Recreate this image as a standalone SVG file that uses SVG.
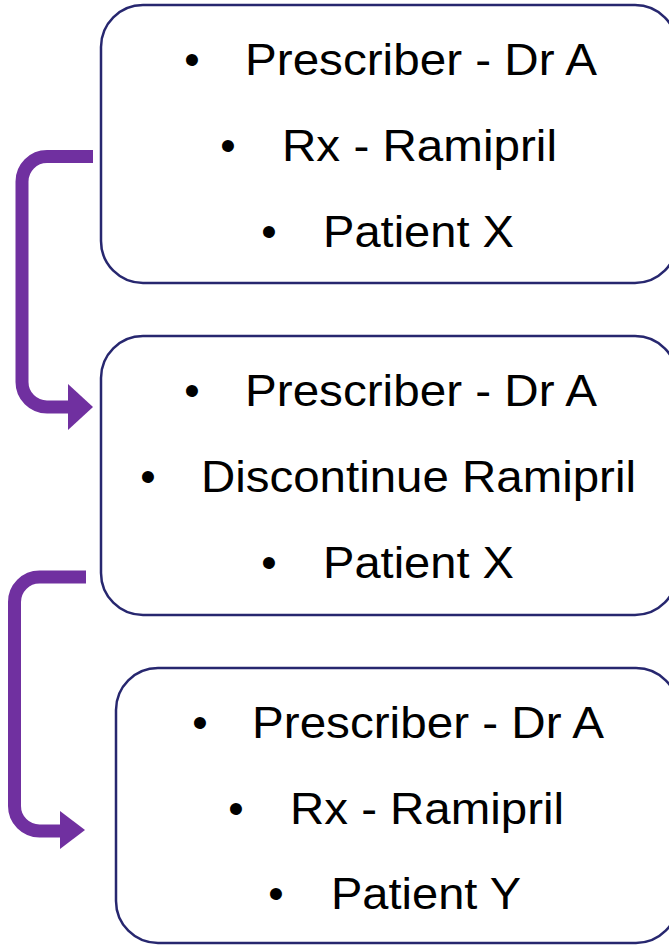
<svg xmlns="http://www.w3.org/2000/svg" width="669" height="945" viewBox="0 0 669 945">
<style>
.box{fill:#ffffff;stroke:#27276f;stroke-width:2.5}
.t{font-family:"Liberation Sans",Arial,sans-serif;font-size:44px;fill:#000000}
.b{font-family:"Liberation Sans",Arial,sans-serif;font-size:44px;fill:#000000;text-anchor:middle}
.conn{fill:none;stroke:#7030A0;stroke-width:13}
.head{fill:#7030A0}
</style>
<rect width="669" height="945" fill="#ffffff"/>
<g id="node1">
<rect class="box" x="101" y="5" width="576" height="278" rx="42" ry="42"/>
<text class="b" x="192" y="75">•</text><text class="t" x="245" y="75" textLength="352" lengthAdjust="spacingAndGlyphs">Prescriber - Dr A</text>
<text class="b" x="228" y="161">•</text><text class="t" x="282" y="161" textLength="275" lengthAdjust="spacingAndGlyphs">Rx - Ramipril</text>
<text class="b" x="269" y="247">•</text><text class="t" x="323" y="247" textLength="191" lengthAdjust="spacingAndGlyphs">Patient X</text>
</g>
<g id="node2">
<rect class="box" x="101" y="336" width="576" height="279" rx="42" ry="42"/>
<text class="b" x="192" y="406">•</text><text class="t" x="245" y="406" textLength="352" lengthAdjust="spacingAndGlyphs">Prescriber - Dr A</text>
<text class="b" x="148" y="492">•</text><text class="t" x="201" y="492" textLength="435" lengthAdjust="spacingAndGlyphs">Discontinue Ramipril</text>
<text class="b" x="269" y="578">•</text><text class="t" x="323" y="578" textLength="191" lengthAdjust="spacingAndGlyphs">Patient X</text>
</g>
<g id="node3">
<rect class="box" x="116" y="668" width="562" height="275" rx="42" ry="42"/>
<text class="b" x="200" y="738">•</text><text class="t" x="252" y="738" textLength="352" lengthAdjust="spacingAndGlyphs">Prescriber - Dr A</text>
<text class="b" x="236" y="824">•</text><text class="t" x="290" y="824" textLength="274" lengthAdjust="spacingAndGlyphs">Rx - Ramipril</text>
<text class="b" x="276" y="909">•</text><text class="t" x="331" y="909" textLength="190" lengthAdjust="spacingAndGlyphs">Patient Y</text>
</g>
<g id="connectors">
<path class="conn" d="M93,156.5 H47 A25,25 0 0 0 22,181.5 V382 A25,25 0 0 0 47,407 H70"/>
<polygon class="head" points="68,384 93,407 68,430"/>
<path class="conn" d="M86,577 H39.5 A25,25 0 0 0 14.5,602 V806 A25,25 0 0 0 39.5,831 H62"/>
<polygon class="head" points="60,811 85,830 60,849"/>
</g>
</svg>
